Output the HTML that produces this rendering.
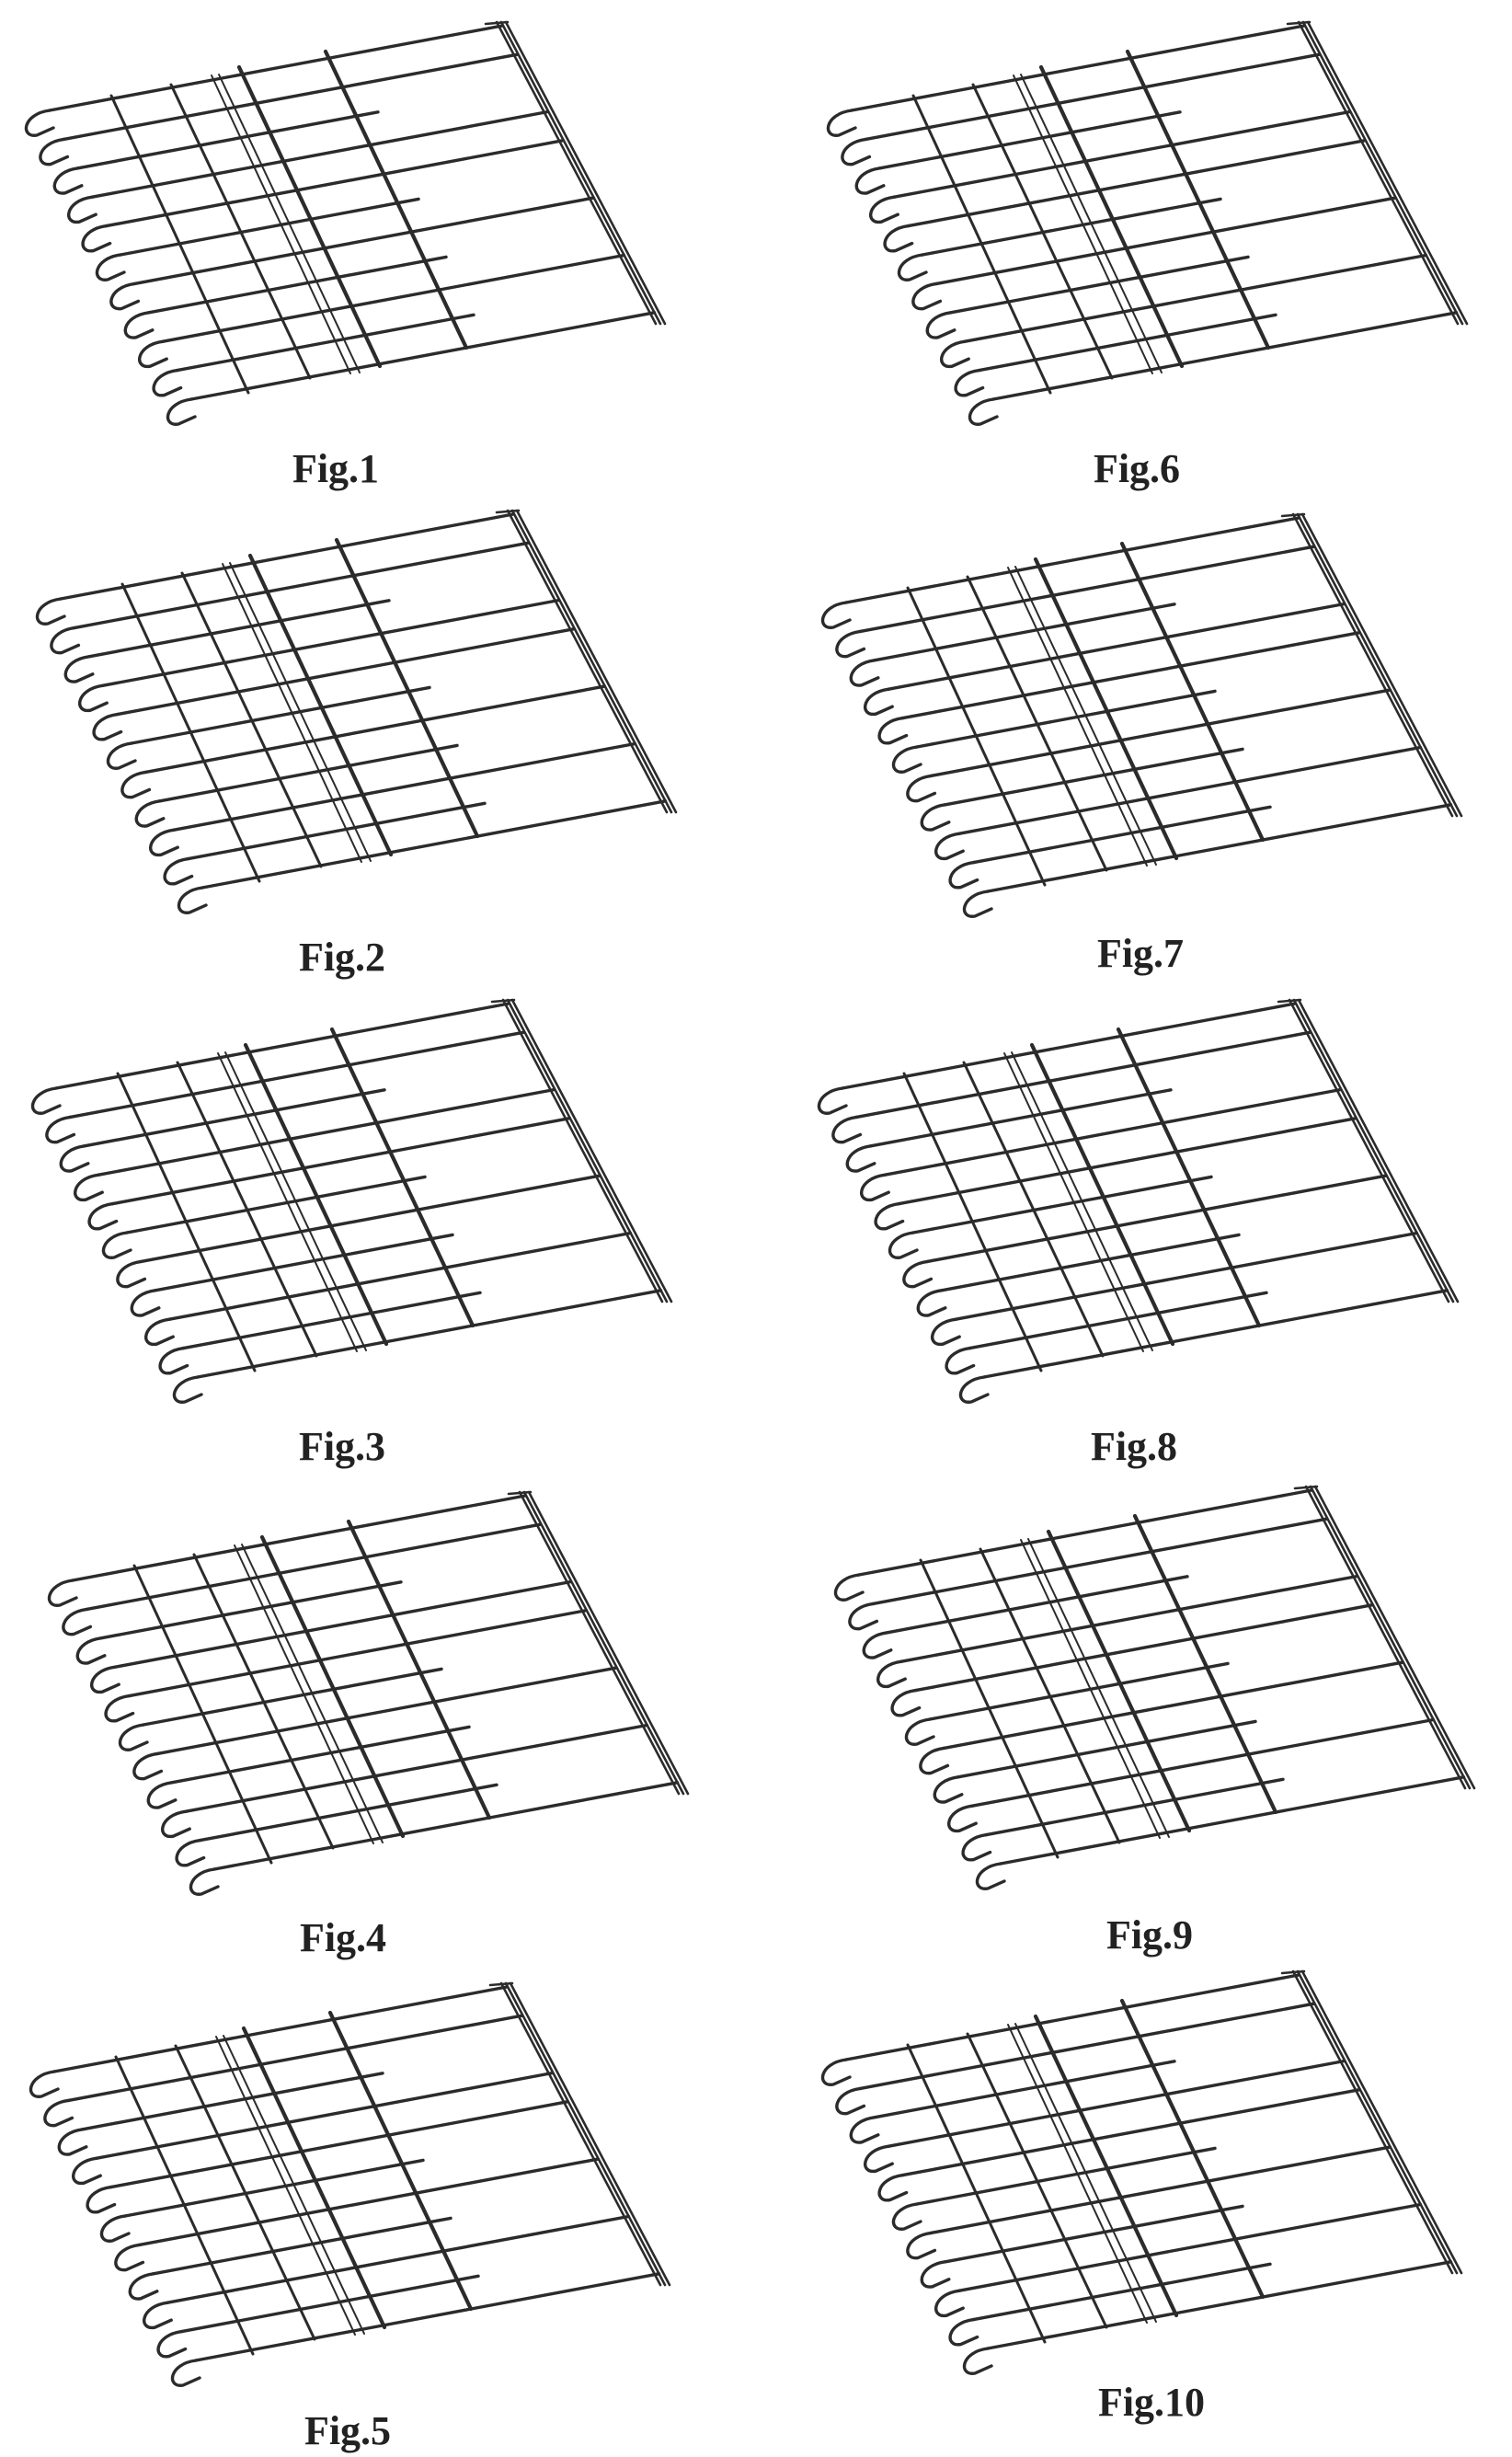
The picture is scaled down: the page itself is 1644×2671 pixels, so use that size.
<!DOCTYPE html>
<html><head><meta charset="utf-8"><style>
html,body{margin:0;padding:0;background:#fff;}
svg{display:block;}
</style></head><body>
<svg id="s" xmlns="http://www.w3.org/2000/svg" width="1644" height="2671" viewBox="0 0 1644 2671">
<rect width="1644" height="2671" fill="#fff"/>
<g id="figs"></g>
<g font-family="Liberation Serif, serif" font-weight="bold" font-size="44" fill="#222" text-anchor="middle">
<text x="365" y="524">Fig.1</text>
<text x="372" y="1055">Fig.2</text>
<text x="372" y="1587">Fig.3</text>
<text x="373" y="2121">Fig.4</text>
<text x="378" y="2657">Fig.5</text>
<text x="1236" y="524">Fig.6</text>
<text x="1240" y="1051">Fig.7</text>
<text x="1233" y="1587">Fig.8</text>
<text x="1250" y="2118">Fig.9</text>
<text x="1252" y="2626">Fig.10</text>
</g>
</svg>
<script>
(function(){
  var slope=-0.187;
  function A(i){return [54+15.4*i,120+31.4*i];}
  function rodY(i,x){var a=A(i);return a[1]+slope*(x-a[0]);}
  function railHit(i,off){
    var rx0=545+off, ry0=26, dx=173, dy=326;
    var a=A(i);
    var t=(a[1]+slope*(rx0-a[0])-ry0)/(dy-slope*dx);
    return [rx0+dx*t, ry0+dy*t];
  }
  var shortEnds={2:411,5:455,7:485,9:515};
  var p='';
  var st='stroke="#2b2b2b" fill="none" stroke-linecap="round"';
  for(var i=0;i<11;i++){
    var a=A(i), ex, ey;
    if(shortEnds[i]){ex=shortEnds[i];ey=rodY(i,ex);}
    else {var h=railHit(i,0);ex=h[0];ey=h[1];}
    p+='<line x1="'+a[0]+'" y1="'+a[1]+'" x2="'+ex.toFixed(1)+'" y2="'+ey.toFixed(1)+'" '+st+' stroke-width="3.4"/>';
    var x=a[0],y=a[1];
    p+='<path d="M'+x+','+y+' C'+(x-30)+','+(y+4)+' '+(x-32)+','+(y+30)+' '+(x-14)+','+(y+27)+' L'+(x+4)+','+(y+19)+'" '+st+' stroke-width="3.4"/>';
  }
  var cross=[[121,104,270,427,3],[186,92,337,411,3],[230,82,381,406,2],[238,81,391,405,2],[260,73,413,398,4.2],[354,56,507,378,4.2]];
  cross.forEach(function(c){p+='<line x1="'+c[0]+'" y1="'+c[1]+'" x2="'+c[2]+'" y2="'+c[3]+'" '+st+' stroke-width="'+c[4]+'"/>';});
  [0,5,10].forEach(function(o){p+='<line x1="'+(540+o)+'" y1="24" x2="'+(713+o)+'" y2="352" '+st+' stroke-width="2.6"/>';});
  p+='<line x1="528" y1="26" x2="552" y2="24" '+st+' stroke-width="2.5"/>';
  var offs=[[0,0],[12,531],[7,1063],[25,1598],[5,2132],[872,0],[866,535],[862,1063],[880,1592],[866,2119]];
  var out='';
  offs.forEach(function(o){out+='<g transform="translate('+o[0]+','+o[1]+')">'+p+'</g>';});
  document.getElementById('figs').innerHTML=out;
})();
</script>
</body></html>
